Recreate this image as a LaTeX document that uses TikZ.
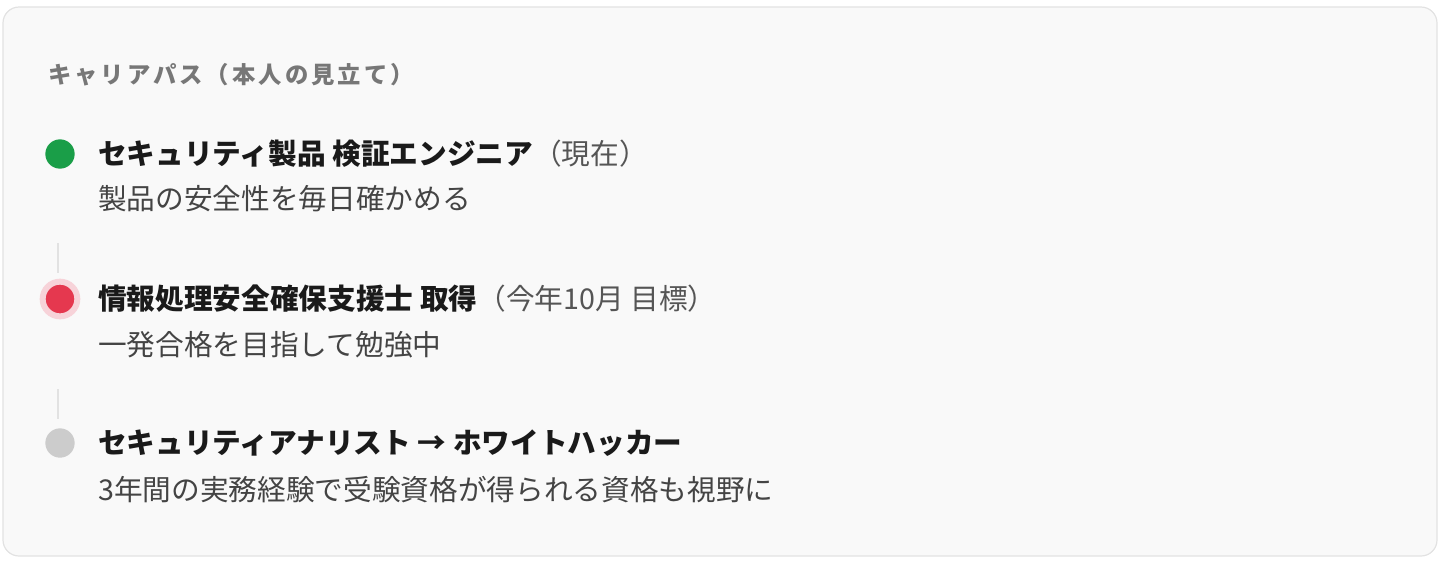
\documentclass[tikz,border=0pt]{standalone}
\usepackage{fontspec}
\setmainfont{Noto Sans CJK JP}
\newfontfamily\titlefont[LetterSpace=13]{Noto Sans CJK JP}
\definecolor{cardbg}{HTML}{F9F9F9}
\definecolor{cardline}{HTML}{E2E2E2}
\definecolor{titlegray}{HTML}{777777}
\definecolor{headink}{HTML}{1A1A1A}
\definecolor{subink}{HTML}{444444}
\definecolor{notegray}{HTML}{555555}
\definecolor{nowgreen}{HTML}{1A9E48}
\definecolor{goalred}{HTML}{E5384F}
\definecolor{goalhalo}{HTML}{F7D3D9}
\definecolor{latergray}{HTML}{CCCCCC}
\tikzset{
  head/.style={anchor=west, inner sep=0pt, text=headink, font=\fontsize{21.5}{26}\selectfont\bfseries},
  sub/.style={anchor=west, inner sep=0pt, text=subink, font=\fontsize{21.5}{26}\selectfont},
  dot/.style={circle, inner sep=0pt, minimum size=22},
  track/.style={draw=cardline, line width=1.5pt},
}
\newcommand{\note}[1]{\mdseries\textcolor{notegray}{#1}}
\begin{document}
\begin{tikzpicture}[x=0.75pt, y=-0.75pt]
    \useasboundingbox (0, 0) rectangle (1440, 562);
    % card
    \draw [fill=cardbg, draw=cardline, line width=0.9pt, rounded corners=12pt] (3, 7) rectangle (1437, 556);
    \node [anchor=west, inner sep=0pt, text=titlegray, font=\titlefont\fontsize{17.5}{21}\selectfont\bfseries] (title) at (48, 75) {キャリアパス（本人の見立て）};

    % current
    \node [dot, fill=nowgreen] (now) at (60, 154) {};
    \node [head] (nowhead) at (98, 154) {セキュリティ製品 検証エンジニア\note{（現在）}};
    \node [sub] (nowsub) at (98, 199) {製品の安全性を毎日確かめる};

    % goal
    \node [dot, fill=goalred, draw=goalhalo, line width=4.5pt, minimum size=26] (goal) at (60, 299) {};
    \node [head] (goalhead) at (98, 299) {情報処理安全確保支援士 取得\note{（今年10月 目標）}};
    \node [sub] (goalsub) at (98, 345) {一発合格を目指して勉強中};

    % later
    \node [dot, fill=latergray] (later) at (60, 443) {};
    \node [head] (laterhead) at (98, 443) {セキュリティアナリスト → ホワイトハッカー};
    \node [sub] (latersub) at (98, 490) {3年間の実務経験で受験資格が得られる資格も視野に};

    \coordinate (trackA) at (58, 243);
    \coordinate (trackB) at (58, 273);
    \coordinate (trackC) at (58, 389);
    \coordinate (trackD) at (58, 419);
    \draw [track] (trackA) -- (trackB);
    \draw [track] (trackC) -- (trackD);
\end{tikzpicture}
\end{document}
